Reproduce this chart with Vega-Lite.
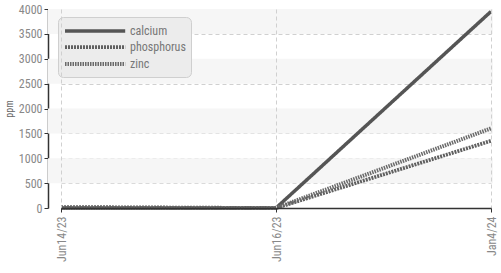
{
  "$schema": "https://vega.github.io/schema/vega-lite/v6.json",
  "width": 445,
  "height": 199,
  "autosize": "none",
  "padding": {"left": 48, "top": 9, "right": 8, "bottom": 65},
  "background": "white",
  "config": {
    "font": "'Roboto Condensed', 'DejaVu Sans Condensed', 'Liberation Sans Narrow', Roboto, sans-serif",
    "view": {"stroke": null},
    "axisY": {
      "title": "ppm", "titleFontSize": 10, "titleFontWeight": "normal", "titleColor": "#666",
      "titlePadding": 4, "format": "d", "labelOverlap": false,
      "values": [0, 500, 1000, 1500, 2000, 2500, 3000, 3500, 4000],
      "labelColor": "#888", "labelFontSize": 12, "domainColor": "#333", "domainWidth": 1.5,
      "tickColor": "#333", "tickSize": 4, "grid": true, "gridColor": "#d0d0d0", "gridDash": [4, 3], "zindex": 1
    }
  },
  "datasets": {
    "bands": [
      {"lo": 500, "hi": 1000},
      {"lo": 1500, "hi": 2000},
      {"lo": 2500, "hi": 3000},
      {"lo": 3500, "hi": 4000}
    ],
    "series": [
      {"date": "Jun14/23", "element": "calcium", "ppm": 0},
      {"date": "Jun16/23", "element": "calcium", "ppm": 0},
      {"date": "Jan4/24", "element": "calcium", "ppm": 3950},
      {"date": "Jun14/23", "element": "phosphorus", "ppm": 20},
      {"date": "Jun16/23", "element": "phosphorus", "ppm": 0},
      {"date": "Jan4/24", "element": "phosphorus", "ppm": 1350},
      {"date": "Jun14/23", "element": "zinc", "ppm": 0},
      {"date": "Jun16/23", "element": "zinc", "ppm": 0},
      {"date": "Jan4/24", "element": "zinc", "ppm": 1600}
    ]
  },
  "layer": [
    {
      "data": {"name": "bands"},
      "mark": {"type": "rect", "color": "#f6f6f6"},
      "encoding": {
        "y": {"field": "lo", "type": "quantitative", "scale": {"domain": [0, 4000], "nice": false},
          "axis": {"title": "ppm", "values": [0, 500, 1000, 1500, 2000, 2500, 3000, 3500, 4000], "labelOverlap": false, "tickCount": 9}},
        "y2": {"field": "hi"}
      }
    },
    {
      "data": {"name": "series"},
      "mark": {"type": "line", "strokeCap": "butt"},
      "encoding": {
        "x": {
          "field": "date", "type": "nominal", "sort": ["Jun14/23", "Jun16/23", "Jan4/24"],
          "scale": {"type": "point", "range": [13, 443], "padding": 0},
          "axis": {
            "title": null, "labelAngle": -90, "labelColor": "#888", "labelFontSize": 12,
            "domainColor": "#333", "domainWidth": 1.5, "tickColor": "#333", "tickSize": 4,
            "grid": true, "gridColor": "#d0d0d0", "gridDash": [4, 3], "labelPadding": 4, "zindex": 1
          }
        },
        "y": {
          "field": "ppm", "type": "quantitative", "scale": {"domain": [0, 4000], "nice": false},
          "axis": {"title": "ppm", "values": [0, 500, 1000, 1500, 2000, 2500, 3000, 3500, 4000], "labelOverlap": false, "tickCount": 9}
        },
        "color": {
          "field": "element", "type": "nominal",
          "scale": {"range": ["#555555", "#606060", "#6a6a6a"]},
          "legend": {
            "title": null, "orient": "none", "legendX": 10, "legendY": 8,
            "fillColor": "#ececec", "strokeColor": "#cfcfcf", "cornerRadius": 5, "padding": 5,
            "symbolType": "M-1,0H7.6", "symbolSize": 196, "symbolStrokeWidth": 4,
            "labelFontSize": 12, "labelColor": "#777", "rowPadding": 0, "labelOffset": 49
          }
        },
        "strokeDash": {
          "field": "element", "type": "nominal",
          "scale": {"range": [[1, 0], [2, 1], [1.5, 1]]},
          "legend": null
        },
        "strokeWidth": {
          "field": "element", "type": "nominal",
          "scale": {"range": [3.5, 4, 2.5]},
          "legend": null
        }
      }
    }
  ]
}
